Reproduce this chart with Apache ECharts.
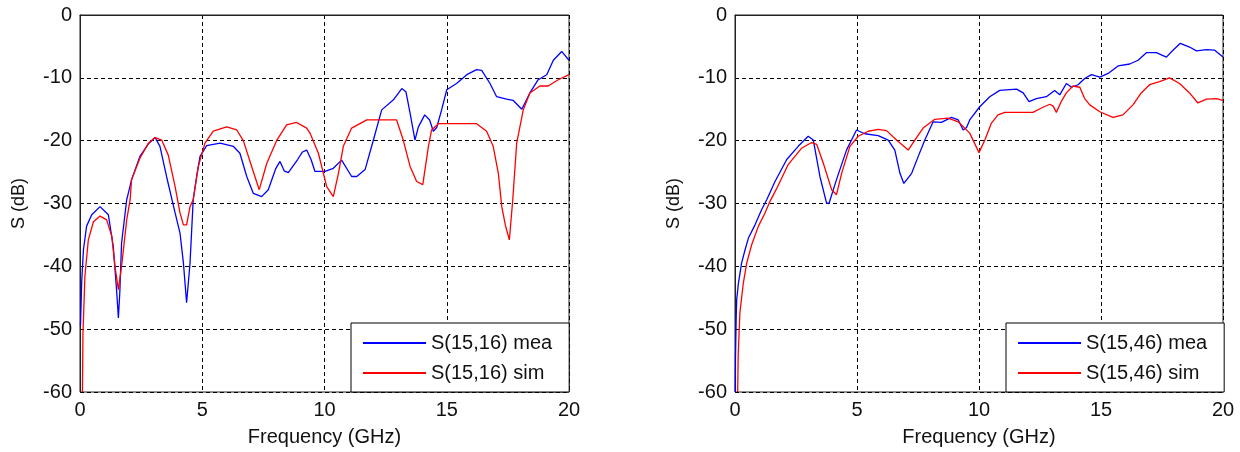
<!DOCTYPE html>
<html>
<head>
<meta charset="utf-8">
<script src="https://cdn.jsdelivr.net/npm/echarts@6/dist/echarts.min.js"></script>
<style>html,body{margin:0;padding:0;background:#fff}#c{width:1240px;height:452px}</style>
</head>
<body>
<div id="c"></div>
<script>
const xTicks = [0, 5, 10, 15, 20];
const yTicks = [0, -10, -20, -30, -40, -50, -60];
const xName = 'Frequency (GHz)';
const yName = 'S (dB)';
const leftNames = ['S(15,16) mea', 'S(15,16) sim'];
const rightNames = ['S(15,46) mea', 'S(15,46) sim'];

const leftMea = [[0.02,-49.5],[0.07,-42.4],[0.14,-37.4],[0.27,-33.6],[0.48,-31.8],[0.82,-30.5],[1.16,-31.8],[1.36,-36.8],[1.5,-44],[1.57,-48.2],[1.63,-44],[1.7,-36.3],[1.91,-29.4],[1.98,-28.3],[2.11,-26.2],[2.45,-22.5],[2.8,-20.5],[3.07,-19.5],[3.27,-20.9],[3.54,-25.7],[3.89,-31.5],[4.09,-34.7],[4.23,-39.5],[4.36,-45.8],[4.5,-39.5],[4.63,-29.4],[4.77,-25.7],[4.91,-22.5],[5.18,-20.8],[5.73,-20.4],[6.27,-20.9],[6.54,-22],[6.82,-25.7],[7.09,-28.4],[7.43,-28.9],[7.7,-27.8],[8.0,-24.5],[8.18,-23.3],[8.35,-24.8],[8.52,-25.1],[8.9,-23],[9.1,-21.8],[9.27,-21.5],[9.45,-23],[9.61,-24.9],[10.02,-24.9],[10.36,-24.4],[10.7,-23.1],[11.11,-25.7],[11.32,-25.7],[11.66,-24.6],[12.0,-19.9],[12.34,-15.1],[12.82,-13.5],[13.16,-11.7],[13.33,-12.2],[13.5,-15.6],[13.7,-19.9],[13.84,-17.8],[14.1,-15.9],[14.3,-16.7],[14.45,-18.5],[14.59,-17.9],[14.79,-15.1],[15.0,-11.9],[15.4,-10.9],[15.82,-9.5],[16.22,-8.7],[16.43,-8.8],[16.77,-10.9],[17.04,-13],[17.45,-13.4],[17.72,-13.6],[18.07,-15],[18.4,-12.4],[18.74,-10.3],[19.09,-9.5],[19.36,-7.2],[19.7,-5.8],[20,-7.2]];

const leftSim = [[0.1,-60],[0.12,-50.9],[0.2,-41.6],[0.34,-35.8],[0.55,-32.9],[0.82,-32],[1.09,-32.6],[1.3,-35.2],[1.43,-40],[1.57,-43.7],[1.7,-40],[1.91,-32.6],[2.05,-29.4],[2.11,-26.2],[2.45,-22.8],[2.8,-20.4],[3.07,-19.5],[3.34,-19.9],[3.61,-22.3],[3.89,-27.3],[4.09,-31.5],[4.23,-33.4],[4.36,-33.4],[4.5,-30.5],[4.63,-29.4],[4.84,-24.1],[5.11,-20.4],[5.45,-18.5],[6.0,-17.8],[6.41,-18.3],[6.68,-20],[7.02,-24.1],[7.33,-27.8],[7.64,-23.6],[8.04,-20],[8.45,-17.5],[8.86,-17.1],[9.27,-18],[9.41,-18.8],[9.75,-22],[10.09,-27.3],[10.36,-28.9],[10.57,-25.2],[10.77,-20.9],[11.11,-18],[11.73,-16.7],[12.95,-16.7],[13.22,-19.9],[13.5,-24.1],[13.77,-26.5],[14.02,-27],[14.25,-20.9],[14.38,-18.3],[14.66,-17.3],[16.22,-17.3],[16.63,-18.5],[16.9,-20.9],[17.11,-25.2],[17.25,-30.5],[17.4,-33.5],[17.56,-35.8],[17.7,-29.4],[17.86,-20.4],[18.13,-15.1],[18.4,-12.4],[18.81,-11.3],[19.15,-11.3],[19.56,-10.3],[20,-9.5]];

const rightMea = [[0.01,-60],[0.02,-54.5],[0.05,-48],[0.07,-45.3],[0.14,-42.7],[0.27,-39.5],[0.41,-37.4],[0.55,-35.5],[0.82,-33.4],[1.09,-31],[1.3,-29.4],[1.64,-26.5],[2.12,-23],[2.59,-20.9],[3.0,-19.3],[3.21,-19.9],[3.48,-25.7],[3.75,-29.9],[3.85,-30],[4.16,-26.2],[4.57,-21.5],[4.98,-18.3],[5.32,-18.9],[5.87,-19.2],[6.28,-19.9],[6.55,-21.5],[6.76,-25.2],[6.92,-26.8],[7.24,-25.2],[7.51,-22.5],[7.78,-19.9],[8.12,-17],[8.46,-17.1],[8.87,-16.3],[9.15,-16.7],[9.35,-18.3],[9.49,-17.9],[9.62,-16.7],[10.03,-14.6],[10.44,-13],[10.85,-12],[11.54,-11.8],[11.81,-12.4],[12.05,-13.8],[12.35,-13.3],[12.76,-13],[13.1,-12],[13.31,-12.7],[13.58,-10.9],[13.79,-11.5],[14.06,-11.1],[14.33,-10.1],[14.61,-9.5],[14.95,-9.9],[15.29,-9.3],[15.7,-8.1],[16.18,-7.8],[16.52,-7.2],[16.86,-6],[17.27,-6],[17.68,-6.7],[17.95,-5.6],[18.25,-4.5],[18.63,-5.1],[18.91,-5.7],[19.32,-5.5],[19.66,-5.6],[20,-6.7]];

const rightSim = [[0.11,-60],[0.13,-54.3],[0.2,-47.4],[0.34,-42.7],[0.48,-39.5],[0.68,-36.6],[0.96,-33.6],[1.23,-31.5],[1.43,-29.7],[1.71,-27.6],[2.18,-23.8],[2.73,-21.2],[3.14,-20.3],[3.35,-20.6],[3.62,-23.6],[3.96,-27.8],[4.16,-28.6],[4.37,-25.2],[4.71,-20.9],[5.05,-19.3],[5.46,-18.5],[5.87,-18.2],[6.21,-18.4],[6.62,-19.9],[7.1,-21.5],[7.37,-19.9],[7.71,-18],[8.19,-16.6],[8.73,-16.4],[9.15,-17],[9.62,-18.8],[10.0,-21.9],[10.24,-19.9],[10.51,-17.2],[10.78,-15.9],[11.06,-15.5],[12.21,-15.5],[12.56,-14.8],[12.9,-14.2],[13.04,-14.5],[13.17,-15.5],[13.38,-13.7],[13.58,-12.4],[13.85,-11.3],[14.13,-11.5],[14.33,-13.3],[14.54,-14.3],[14.95,-15.4],[15.49,-16.3],[15.9,-15.9],[16.31,-14.3],[16.65,-12.4],[16.99,-11.1],[17.4,-10.6],[17.81,-10],[18.22,-10.9],[18.63,-12.4],[18.97,-14],[19.32,-13.4],[19.73,-13.3],[20,-13.6]];

const FONT = 'Liberation Sans, Arial, sans-serif';
const TXT = '#111';
const dash = {type: [4, 3], color: '#000', width: 1};

function xAxis(i) {
  return {
    type: 'value', gridIndex: i, min: xTicks[0], max: xTicks[xTicks.length - 1], interval: 5,
    name: xName, nameLocation: 'middle', nameGap: 35,
    nameTextStyle: {fontFamily: FONT, fontSize: 20, color: TXT},
    axisLine: {show: true, lineStyle: {color: '#222', width: 1}},
    axisTick: {show: false},
    axisLabel: {fontFamily: FONT, fontSize: 20, color: TXT, margin: 8},
    splitLine: {show: true, lineStyle: dash}
  };
}
function yAxis(i) {
  return {
    type: 'value', gridIndex: i, min: yTicks[yTicks.length - 1], max: yTicks[0], interval: 10,
    name: yName, nameLocation: 'middle', nameGap: 52,
    nameTextStyle: {fontFamily: FONT, fontSize: 18, color: TXT},
    axisLine: {show: true, lineStyle: {color: '#222', width: 1}},
    axisTick: {show: false},
    axisLabel: {fontFamily: FONT, fontSize: 20, color: TXT, margin: 8},
    splitLine: {show: true, lineStyle: dash}
  };
}
function ser(name, data, color, i) {
  return {
    name, type: 'line', xAxisIndex: i, yAxisIndex: i, data, symbol: 'none',
    lineStyle: {color, width: 1.3}, itemStyle: {color}, animation: false, clip: true
  };
}
function legend(names, left, rightPad) {
  return {
    data: names, orient: 'vertical', left, top: 323,
    padding: [10, rightPad, 9, 12], itemGap: 10, itemWidth: 63, itemHeight: 2, icon: 'rect',
    borderColor: '#000', borderWidth: 1, backgroundColor: '#fff', borderRadius: 0,
    textStyle: {fontFamily: FONT, fontSize: 20, color: TXT, lineHeight: 20},
    selectedMode: false
  };
}

const chart = echarts.init(document.getElementById('c'), null, {renderer: 'canvas'});
chart.setOption({
  animation: false,
  backgroundColor: '#fff',
  grid: [
    {left: 80, top: 15, width: 489, height: 377, show: true, borderColor: '#222', borderWidth: 1, backgroundColor: '#fff'},
    {left: 735, top: 15, width: 488, height: 377, show: true, borderColor: '#222', borderWidth: 1, backgroundColor: '#fff'}
  ],
  xAxis: [xAxis(0), xAxis(1)],
  yAxis: [yAxis(0), yAxis(1)],
  legend: [legend(leftNames, 351, 17), legend(rightNames, 1006, 17)],
  series: [
    ser(leftNames[0], leftMea, '#0000ff', 0),
    ser(leftNames[1], leftSim, '#ff0000', 0),
    ser(rightNames[0], rightMea, '#0000ff', 1),
    ser(rightNames[1], rightSim, '#ff0000', 1)
  ]
});
</script>
</body>
</html>
